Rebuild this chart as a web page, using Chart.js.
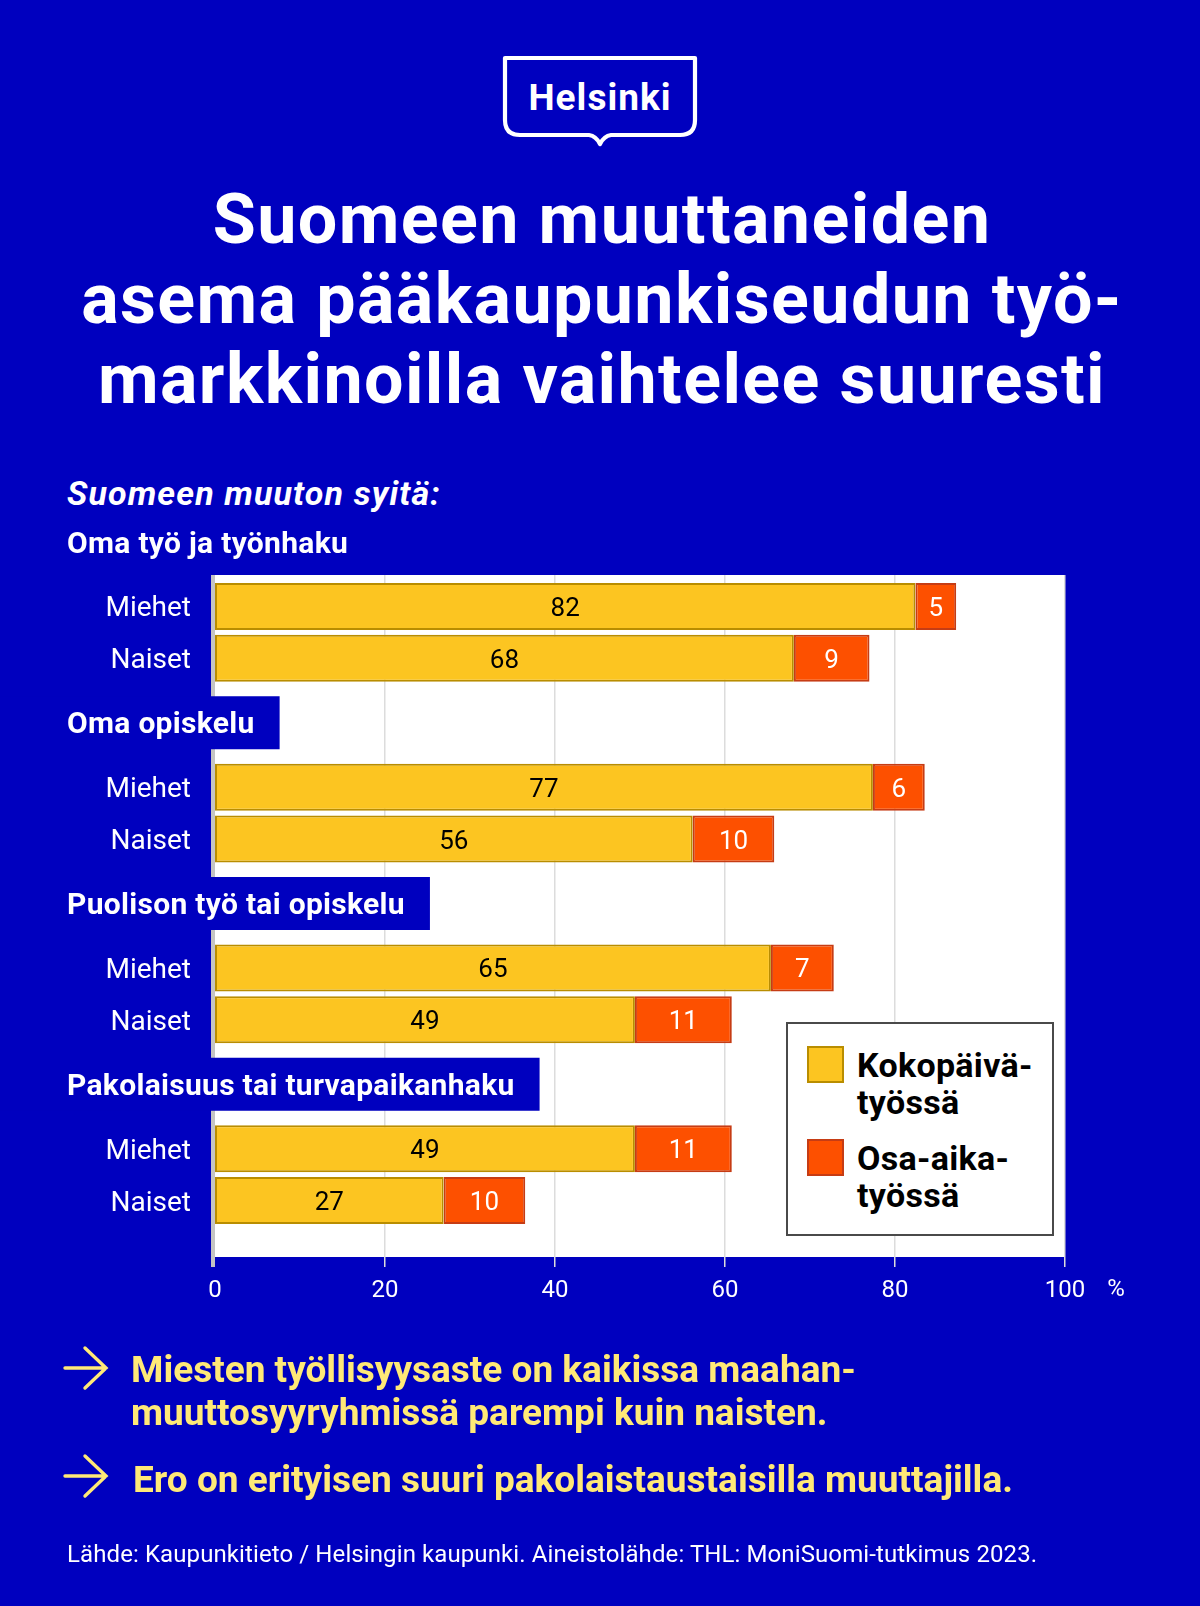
<!DOCTYPE html>
<html lang="fi">
<head>
<meta charset="utf-8">
<script src="https://cdn.jsdelivr.net/npm/chart.js@4.4.1/dist/chart.umd.min.js"></script>
<style>
  html, body { margin: 0; padding: 0; }
  body { width: 1200px; height: 1606px; background: #0000bf; overflow: hidden; position: relative; font-family: Roboto, "Noto Sans", sans-serif; color: #fff; }
  #chart { position: absolute; left: 0; top: 0; }
  .abs { position: absolute; white-space: nowrap; }
  #title { left: 0; width: 1204px; top: 179px; text-align: center; font: 700 70px/80px Roboto, sans-serif; letter-spacing: 1.4px; }
  #subtitle { left: 67px; top: 474px; font: italic 700 34px/38px Roboto, sans-serif; letter-spacing: 1.1px; }
  .note { font: 700 37px/43px Roboto, sans-serif; color: #ffe977; }
  #source { left: 67px; top: 1540px; font: 400 24px/28px Roboto, sans-serif; letter-spacing: 0.1px; }
  #legend { left: 786px; top: 1022px; width: 264px; height: 210px; background: #fff; border: 2px solid #4a4a4a; }
  .sw { position: absolute; width: 33px; height: 33px; border: 2px solid; }
  .lt { position: absolute; color: #000; font: 700 34px/37px Roboto, sans-serif; letter-spacing: 0.3px; white-space: pre; }
</style>
</head>
<body>
<svg class="abs" style="left:0;top:0" width="1200" height="160">
  <path d="M505,58 L695,58 L695,120 Q695,135 680,135 L611,135 Q604,136 600,144 Q596,136 589,135 L520,135 Q505,135 505,120 Z"
        fill="none" stroke="#fff" stroke-width="4.2" stroke-linejoin="round"/>
  <text x="600" y="110" text-anchor="middle" fill="#fff" font-family="Roboto" font-weight="700" font-size="37" letter-spacing="1">Helsinki</text>
</svg>

<div id="title" class="abs">Suomeen muuttaneiden<br>asema pääkaupunkiseudun työ-<br>markkinoilla vaihtelee suuresti</div>
<div id="subtitle" class="abs">Suomeen muuton syitä:</div>

<canvas id="chart" width="1200" height="1606"></canvas>

<div id="legend" class="abs"></div>

<svg class="abs" style="left:0;top:1330px" width="130" height="190">
  <g fill="none" stroke="#ffe977" stroke-width="3.4" stroke-linecap="round">
    <path d="M65,38 L106,38 M85,18 L106,38 L85,58"/>
    <path d="M65,146 L106,146 M85,126 L106,146 L85,166"/>
  </g>
</svg>
<div class="abs note" style="left:131px;top:1348px">Miesten työllisyysaste on kaikissa maahan-<br>muuttosyyryhmissä parempi kuin naisten.</div>
<div class="abs note" style="left:133px;top:1458px">Ero on erityisen suuri pakolaistaustaisilla muuttajilla.</div>
<div id="source" class="abs">Lähde: Kaupunkitieto / Helsingin kaupunki. Aineistolähde: THL: MoniSuomi-tutkimus 2023.</div>

<script>
// data (labels show rounded values)
const categories = ['Oma työ ja työnhaku', 'Oma opiskelu', 'Puolison työ tai opiskelu', 'Pakolaisuus tai turvapaikanhaku'];
const genders = ['Miehet', 'Naiset'];
const seriesNames = ['Kokopäivä-\ntyössä', 'Osa-aika-\ntyössä'];
const menFull = [82.4, 77.4, 65.4, 49.4];
const menPart = [4.8, 6.1, 7.4, 11.4];
const womenFull = [68.1, 56.2, 49.4, 26.9];
const womenPart = [8.9, 9.6, 11.4, 9.6];
const xTicks = [0, 20, 40, 60, 80, 100];

const BLUE = '#0000bf';
const fillColors = ['#fcc521', '#fd5000'];
const edgeColors = ['#b98d00', '#c63c14'];
const textColors = ['#000', '#fff'];
const headFont = '700 30px Roboto';

function bar(label, data, stack, k){
    return {
        label: label, data: data, stack: stack,
        backgroundColor: fillColors[k], borderColor: edgeColors[k],
        borderWidth: 2, borderSkipped: false,
        categoryPercentage: 0.575, barPercentage: 0.904,
        _k: k
    };
}

function headWidth(ctx, s){
    return ctx.measureText(s).width + 0.3 * s.length;
}

// white plot box, grid, header tabs
const backdrop = {
    id: 'backdrop',
    beforeDatasetsDraw(chart){
        const ctx = chart.ctx, x = chart.scales.x, y = chart.scales.y, a = chart.chartArea;
        const top = a.top + 33, bottom = a.bottom - 8;
        const x0 = x.getPixelForValue(0), x1 = x.getPixelForValue(100);
        ctx.save();
        ctx.fillStyle = '#fff';
        ctx.fillRect(x0, top, x1 - x0, bottom - top);
        ctx.fillStyle = '#dcdcdc';
        x.ticks.forEach(t => {
            if(t.value === 0) return;
            const px = Math.round(x.getPixelForValue(t.value));
            ctx.fillRect(px - 1, top, 1.5, bottom - top + 10);
        });
        ctx.fillStyle = '#c4c4c4';
        ctx.fillRect(x0 - 4, top, 4, bottom - top + 10);
        ctx.font = headFont;
        ctx.fillStyle = BLUE;
        for(let i = 1; i < categories.length; i++){
            const cy = (y.getPixelForValue(i - 1) + y.getPixelForValue(i)) / 2;
            ctx.fillRect(0, cy - 26.5, 67 + headWidth(ctx, categories[i]) + 25, 53);
        }
        ctx.restore();
    },
    afterDatasetsDraw(chart){
        const ctx = chart.ctx, x = chart.scales.x, y = chart.scales.y;
        ctx.save();
        // values
        ctx.font = '400 26px Roboto';
        ctx.textAlign = 'center';
        ctx.textBaseline = 'alphabetic';
        chart.data.datasets.forEach((ds, di) => {
            chart.getDatasetMeta(di).data.forEach((el, i) => {
                ctx.fillStyle = textColors[ds._k];
                ctx.fillText(String(Math.round(ds.data[i])), (el.x + el.base) / 2, el.y + 9.5);
            });
        });
        // gender labels
        ctx.font = '400 28px Roboto';
        ctx.textAlign = 'right';
        ctx.fillStyle = '#fff';
        [0, 2].forEach((di, g) => {
            chart.getDatasetMeta(di).data.forEach(el => {
                ctx.fillText(genders[g], 191, el.y + 10);
            });
        });
        // reason headers
        ctx.font = headFont;
        ctx.textAlign = 'left';
        if('letterSpacing' in ctx) ctx.letterSpacing = '0.3px';
        categories.forEach((c, i) => {
            const cy = i === 0 ? y.getPixelForValue(0) - (y.getPixelForValue(1) - y.getPixelForValue(0)) / 2
                               : (y.getPixelForValue(i - 1) + y.getPixelForValue(i)) / 2;
            ctx.fillText(c, 67, cy + 10.5);
        });
        if('letterSpacing' in ctx) ctx.letterSpacing = '0px';
        // percent sign after the last tick
        ctx.font = '400 24px Roboto';
        const x1 = x.getPixelForValue(100);
        const w = ctx.measureText('100').width;
        ctx.textBaseline = 'top';
        ctx.fillText('%', x1 + w / 2 + 22, x.top + 13);
        ctx.restore();
    }
};

const chart = new Chart(document.getElementById('chart'), {
    type: 'bar',
    data: {
        labels: categories,
        datasets: [
            bar(seriesNames[0], menFull, 'M', 0),
            bar(seriesNames[1], menPart, 'M', 1),
            bar(seriesNames[0], womenFull, 'N', 0),
            bar(seriesNames[1], womenPart, 'N', 1)
        ]
    },
    options: {
        indexAxis: 'y',
        responsive: false,
        animation: false,
        devicePixelRatio: 1,
        layout: { padding: { left: 215, right: 135, top: 542, bottom: 301 } },
        plugins: { legend: { display: false }, tooltip: { enabled: false } },
        scales: {
            x: {
                type: 'linear', min: 0, max: 100,
                afterBuildTicks: s => { s.ticks = xTicks.map(v => ({ value: v })); },
                afterFit: s => { s.height = 40; },
                grid: { display: false, drawTicks: false },
                border: { display: false },
                ticks: { color: '#fff', font: { family: 'Roboto', size: 24 }, padding: 12, maxRotation: 0, autoSkip: false }
            },
            y: { display: false, stacked: true }
        }
    },
    plugins: [backdrop]
});

// legend box
const legend = document.getElementById('legend');
seriesNames.forEach((name, k) => {
    const sw = document.createElement('div');
    sw.className = 'sw';
    sw.style.left = '19px';
    sw.style.top = (22 + k * 93) + 'px';
    sw.style.background = fillColors[k];
    sw.style.borderColor = edgeColors[k];
    legend.appendChild(sw);
    const t = document.createElement('div');
    t.className = 'lt';
    t.style.left = '69px';
    t.style.top = (23 + k * 93) + 'px';
    t.textContent = name;
    legend.appendChild(t);
});
</script>
</body>
</html>
